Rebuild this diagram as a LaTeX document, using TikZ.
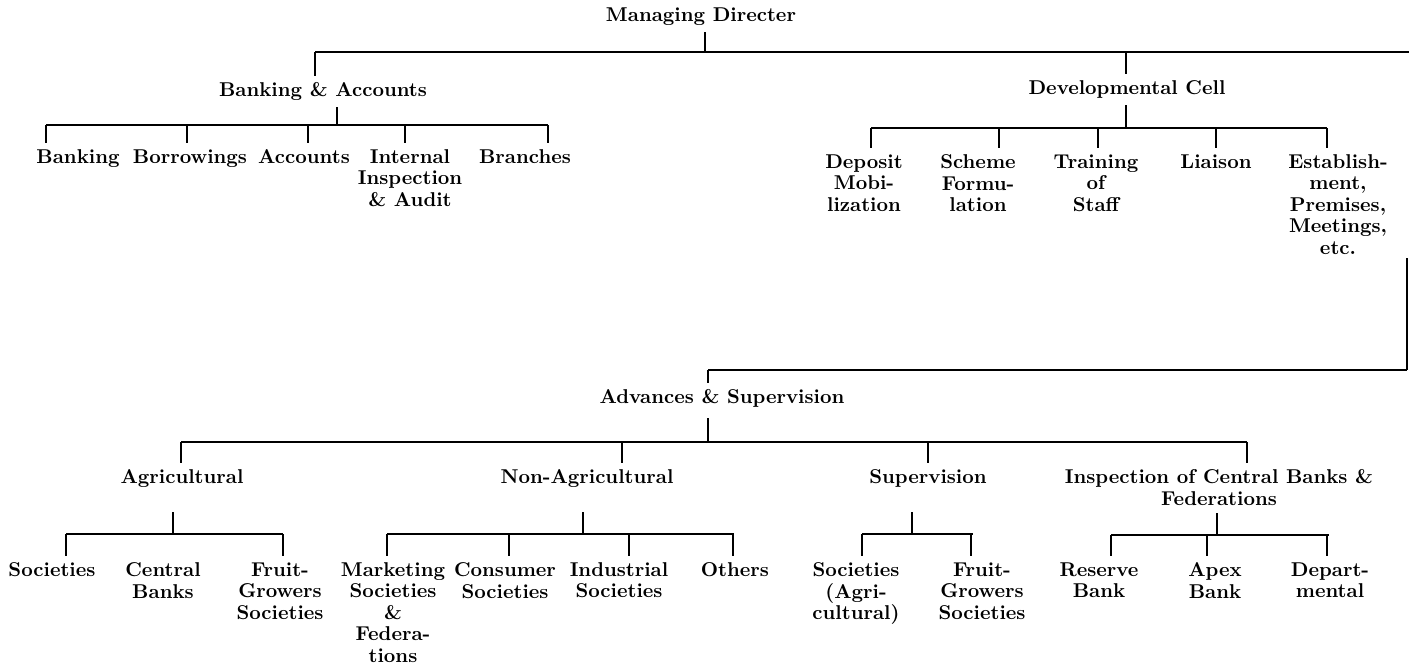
\documentclass[tikz,border=0pt]{standalone}

\begin{document}
\begin{tikzpicture}[x=0.5pt, y=-0.5pt, line width=0.6pt,
		box/.style={inner sep=0pt, anchor=north, align=center, font=\bfseries\fontsize{10}{10.75}\selectfont},
		tick/.style={shorten >=3pt},
		longtick/.style={shorten >=12pt}]
		\useasboundingbox (0,0) rectangle (1409,665);
		
		\node [box] (md) at (701, 7) {Managing Directer};
		\draw [tick] (705,52) -- (705,52 |- md.south);
		\draw (315,52) -- (1409,52); % Översta linjen
		
		% Banking & Accounts
		\node [box] (bankacc) at (323, 82) {Banking \& Accounts};
		\draw [tick] (315,52) -- (315,52 |- bankacc.north);
		\draw [tick] (337,125) -- (337,125 |- bankacc.south);
		\draw (46,125) -- (548,125);
		\node [box] (banking) at (78, 149) {Banking};
		\node [box] (borrow) at (190, 149) {Borrowings};
		\node [box] (accounts) at (304, 149) {Accounts};
		\node [box] (audit) at (410, 149) {Internal\\Inspection\\\& Audit};
		\node [box] (branches) at (525, 149) {Branches};
		\draw [tick] (46,125) -- (46,125 |- banking.north);
		\draw [tick] (187,125) -- (187,125 |- borrow.north);
		\draw [tick] (308,125) -- (308,125 |- accounts.north);
		\draw [tick] (405,125) -- (405,125 |- audit.north);
		\draw [tick] (548,125) -- (548,125 |- branches.north);
		
		% Developmental Cell
		\node [box] (devcell) at (1127, 80) {Developmental Cell};
		\draw [tick] (1126,52) -- (1126,52 |- devcell.north);
		\draw [tick] (1126,128) -- (1126,128 |- devcell.south);
		\draw (871,128) -- (1327,128);
		\node [box] (deposit) at (864, 154) {Deposit\\Mobi-\\lization};
		\node [box] (scheme) at (978, 154) {Scheme\\Formu-\\lation};
		\node [box] (training) at (1096, 154) {Training\\of\\Staff};
		\node [box] (liaison) at (1216, 154) {Liaison};
		\node [box] (establ) at (1338, 154) {Establish-\\ment,\\Premises,\\Meetings,\\etc.};
		\draw [tick] (871,128) -- (871,128 |- deposit.north);
		\draw [tick] (999,128) -- (999,128 |- scheme.north);
		\draw [tick] (1098,128) -- (1098,128 |- training.north);
		\draw [tick] (1216,128) -- (1216,128 |- liaison.north);
		\draw [tick] (1327,128) -- (1327,128 |- establ.north);
		
		% Advances & Supervision
		\draw (1407,258) -- (1407,370);
		\draw (708,370) -- (1407,370);
		\node [box] (advsup) at (722, 389) {Advances \& Supervision};
		\draw [tick] (708,370) -- (708,370 |- advsup.north);
		\draw [shorten >=5pt] (708,442) -- (708,442 |- advsup.south);
		\draw (181,442) -- (1247,442);
		\node [box] (agri) at (182, 469) {Agricultural};
		\node [box] (nonagri) at (587, 469) {Non-Agricultural};
		\node [box] (superv) at (928, 469) {Supervision};
		\node [box] (inspect) at (1219, 469) {Inspection of Central Banks \&\\Federations};
		\draw [tick] (181,442) -- (181,442 |- agri.north);
		\draw [tick] (622,442) -- (622,442 |- nonagri.north);
		\draw [tick] (928,442) -- (928,442 |- superv.north);
		\draw [tick] (1247,442) -- (1247,442 |- inspect.north);
		
		% Agricultural
		\draw [longtick] (173,534) -- (173,534 |- agri.south);
		\draw (66,534) -- (283,534);
		\node [box] (agsoc) at (52, 562) {Societies};
		\node [box] (centbank) at (163, 562) {Central\\Banks};
		\node [box] (agfruit) at (280, 562) {Fruit-\\Growers\\Societies};
		\draw [tick] (66,534) -- (66,534 |- agsoc.north);
		\draw [tick] (283,534) -- (283,534 |- agfruit.north);
		
		% Non-Agricultural
		\draw [longtick] (583,534) -- (583,534 |- nonagri.south);
		\draw (387,534) -- (734,534);
		\node [box] (market) at (393, 562) {Marketing\\Societies\\\&\\Federa-\\tions};
		\node [box] (consum) at (505, 562) {Consumer\\Societies};
		\node [box] (indust) at (619, 562) {Industrial\\Societies};
		\node [box] (others) at (735, 562) {Others};
		\draw [tick] (387,534) -- (387,534 |- market.north);
		\draw [tick] (509,534) -- (509,534 |- consum.north);
		\draw [tick] (629,534) -- (629,534 |- indust.north);
		\draw [tick] (733,534) -- (733,534 |- others.north);
		
		% Supervision
		\draw [longtick] (912,534) -- (912,534 |- superv.south);
		\draw (862,534) -- (973,534);
		\node [box] (supsoc) at (856, 562) {Societies\\(Agri-\\cultural)};
		\node [box] (supfruit) at (982, 562) {Fruit-\\Growers\\Societies};
		\draw [tick] (862,534) -- (862,534 |- supsoc.north);
		\draw [tick] (971,534) -- (971,534 |- supfruit.north);
		
		% Inspection
		\draw [shorten >=3.5pt] (1217,535) -- (1217,535 |- inspect.south);
		\draw (1111,535) -- (1329,535);
		\node [box] (reserve) at (1099, 562) {Reserve\\Bank};
		\node [box] (apex) at (1215, 562) {Apex\\Bank};
		\node [box] (depart) at (1330, 562) {Depart-\\mental};
		\draw [tick] (1111,535) -- (1111,535 |- reserve.north);
		\draw [tick] (1207,535) -- (1207,535 |- apex.north);
		\draw [tick] (1327,535) -- (1327,535 |- depart.north);
	\end{tikzpicture}
\end{document}
